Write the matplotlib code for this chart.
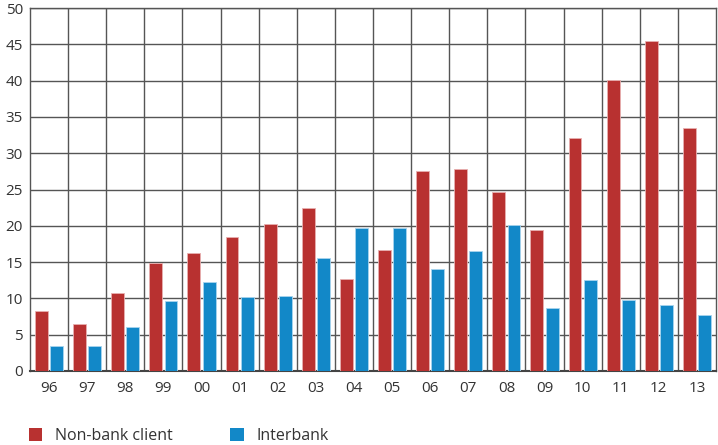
import matplotlib.pyplot as plt
import numpy as np
from matplotlib.patches import Patch

years = ['96', '97', '98', '99', '00', '01', '02', '03', '04',
         '05', '06', '07', '08', '09', '10', '11', '12', '13']
non_bank = [8.3, 6.5, 10.8, 14.9, 16.3, 18.4, 20.3, 22.4, 12.7,
            16.6, 27.6, 27.8, 24.6, 19.4, 32.1, 40.1, 45.4, 33.5]
interbank = [3.4, 3.4, 6.1, 9.7, 12.2, 10.2, 10.3, 15.6, 19.7,
             19.7, 14.1, 16.5, 20.1, 8.7, 12.5, 9.8, 9.1, 7.7]

red = '#B83130'
blue = '#1288C8'
grid_col = '#555555'
text_col = '#333333'

plt.rcParams['font.family'] = ['Open Sans', 'DejaVu Sans']

fig = plt.figure(figsize=(7.18, 4.45), dpi=100)
ax = fig.add_axes([30 / 718, 1 - 371 / 445, 686 / 718, 363 / 445])

x = np.arange(len(years))
w = 0.34
ax.bar(x - 0.2, non_bank, width=w, color=red, edgecolor='#E8B0B0',
       linewidth=0.6, zorder=3)
ax.bar(x + 0.2, interbank, width=w, color=blue, edgecolor='#A8D4EE',
       linewidth=0.6, zorder=3)

ax.set_xlim(-0.5, len(years) - 0.5)
ax.set_ylim(0, 50)
ax.set_yticks(range(0, 51, 5))
ax.set_xticks(x)
ax.set_xticklabels(years)
ax.set_xticks(np.arange(0.5, len(years) - 1, 1), minor=True)

ax.grid(axis='y', which='major', color=grid_col, linewidth=1.0, zorder=0)
ax.grid(axis='x', which='minor', color=grid_col, linewidth=1.0, zorder=0)
ax.tick_params(axis='both', which='both', length=0, labelsize=11,
               colors=text_col)
ax.tick_params(axis='x', pad=7)
ax.tick_params(axis='y', pad=5)

for side in ['top', 'right', 'left']:
    ax.spines[side].set_color(grid_col)
    ax.spines[side].set_linewidth(1.0)
ax.spines['bottom'].set_color('#444444')
ax.spines['bottom'].set_linewidth(1.5)

handles = [Patch(facecolor=red, label='Non-bank client'),
           Patch(facecolor=blue, label='Interbank')]
fig.legend(handles=handles, loc='lower left', bbox_to_anchor=(0.02, -0.03),
           ncol=2, frameon=False, fontsize=11.5, handlelength=0.85,
           handleheight=0.85, handletextpad=0.8, columnspacing=3.6,
           labelcolor=text_col)

fig.savefig('out.png', dpi=100)
